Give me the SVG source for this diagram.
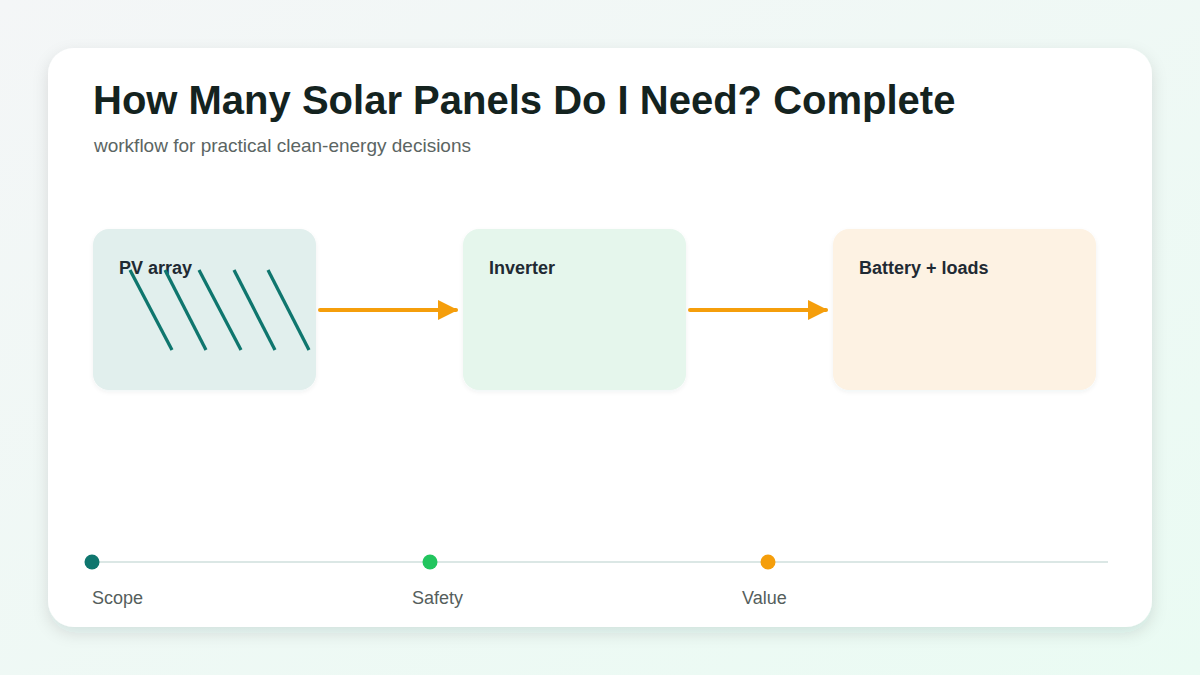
<svg xmlns="http://www.w3.org/2000/svg" width="1200" height="675" viewBox="0 0 1200 675">
<defs>
<linearGradient id="bg" x1="0" y1="0" x2="1" y2="1">
<stop offset="0" stop-color="#f4f6f7"/>
<stop offset="1" stop-color="#eafbf3"/>
</linearGradient>
<filter id="sh" x="-10%" y="-10%" width="120%" height="125%">
<feDropShadow dx="0" dy="6" stdDeviation="8" flood-color="#1f3b36" flood-opacity="0.12"/>
</filter>
<filter id="nsh" x="-10%" y="-10%" width="120%" height="125%">
<feDropShadow dx="0" dy="2" stdDeviation="2" flood-color="#1f3b36" flood-opacity="0.06"/>
</filter>
<marker id="ah" viewBox="0 0 10 10" refX="9" refY="5" markerWidth="5" markerHeight="5" orient="auto" markerUnits="strokeWidth">
<path d="M0,0 L10,5 L0,10 Z" fill="#f59e0b"/>
</marker>
<style>
.title{font-family:"Liberation Sans",Arial,sans-serif;font-weight:700;font-size:40px;fill:#14231f}
.sub{font-family:"Liberation Sans",Arial,sans-serif;font-size:19px;fill:#5b6563}
.nl{font-family:"Liberation Sans",Arial,sans-serif;font-weight:700;font-size:18px;fill:#1f2a33}
.tl{font-family:"Liberation Sans",Arial,sans-serif;font-size:18px;fill:#555e5c}
.conn{stroke:#f59e0b;stroke-width:4;stroke-linecap:round;fill:none}
.pv{stroke:#0f766e;stroke-width:3.3;stroke-linecap:butt}
</style>
</defs>
<rect width="1200" height="675" fill="url(#bg)"/>
<rect x="48" y="48" width="1104" height="579" rx="26" fill="#ffffff" filter="url(#sh)"/>
<text class="title" x="93" y="114">How Many Solar Panels Do I Need? Complete</text>
<text class="sub" x="94" y="152">workflow for practical clean-energy decisions</text>
<g id="node-pv">
<rect x="93" y="229" width="223" height="161" rx="16" fill="#e1efed" filter="url(#nsh)"/>
<text class="nl" x="119" y="274">PV array</text>
<line class="pv" x1="130" y1="270" x2="172" y2="350"/>
<line class="pv" x1="165" y1="270" x2="206" y2="350"/>
<line class="pv" x1="199" y1="270" x2="241" y2="350"/>
<line class="pv" x1="234" y1="270" x2="275" y2="350"/>
<line class="pv" x1="268" y1="270" x2="309" y2="350"/>
</g>
<g id="node-inverter">
<rect x="463" y="229" width="223" height="161" rx="16" fill="#e5f6ec" filter="url(#nsh)"/>
<text class="nl" x="489" y="274">Inverter</text>
</g>
<g id="node-battery">
<rect x="833" y="229" width="263" height="161" rx="16" fill="#fdf2e3" filter="url(#nsh)"/>
<text class="nl" x="859" y="274">Battery + loads</text>
</g>
<g id="connectors">
<line class="conn" x1="320" y1="310" x2="456" y2="310" marker-end="url(#ah)"/>
<line class="conn" x1="690" y1="310" x2="826" y2="310" marker-end="url(#ah)"/>
</g>
<g id="timeline">
<line x1="92" y1="562" x2="1108" y2="562" stroke="#dbe7e5" stroke-width="2"/>
<circle cx="92" cy="562" r="7.5" fill="#0f766e"/>
<circle cx="430" cy="562" r="7.5" fill="#22c55e"/>
<circle cx="768" cy="562" r="7.5" fill="#f59e0b"/>
<text class="tl" x="92" y="604">Scope</text>
<text class="tl" x="412" y="604">Safety</text>
<text class="tl" x="742" y="604">Value</text>
</g>
</svg>
